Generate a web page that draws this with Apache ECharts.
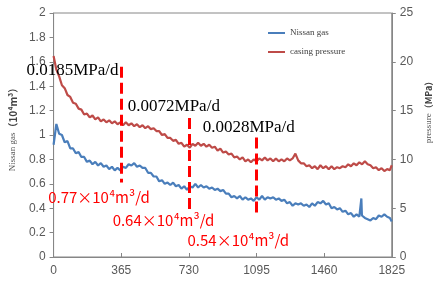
<!DOCTYPE html>
<html>
<head>
    <meta charset="utf-8">
    <script src="https://cdn.jsdelivr.net/npm/echarts@6/dist/echarts.min.js"></script>
</head>
<body style="margin:0">
<div id="main" style="width:441px;height:282px;"></div>
<script type="text/javascript">
    // Nissan gas, 10^4 m3 (day, value)
    var gasDays = [0, 15, 30, 45, 60, 75, 90, 105, 120, 135, 150, 165, 180, 195, 210, 225, 240, 255, 270, 285,
        300, 315, 330, 345, 360, 375, 390, 405, 420, 435, 450, 465, 480, 495, 510, 525, 540, 555, 570, 585,
        600, 615, 630, 645, 660, 675, 690, 705, 720, 735, 750, 765, 780, 795, 810, 825, 840, 855, 870, 885,
        900, 915, 930, 945, 960, 975, 990, 1005, 1020, 1035, 1050, 1065, 1080, 1095, 1110, 1125, 1140, 1155, 1170, 1185,
        1200, 1215, 1230, 1245, 1260, 1275, 1290, 1305, 1320, 1335, 1350, 1365, 1380, 1395, 1410, 1425, 1440, 1455, 1470, 1485,
        1500, 1515, 1530, 1545, 1560, 1575, 1590, 1605, 1620, 1635, 1650, 1658, 1661, 1664, 1680, 1695, 1710, 1725, 1740, 1755,
        1770, 1785, 1800, 1815, 1825];
    var gasValues = [0.92, 1.09, 1.01, 1.00, 0.94, 0.95, 0.89, 0.89, 0.85, 0.86, 0.82, 0.82, 0.78, 0.79, 0.76, 0.78, 0.75, 0.77, 0.74, 0.75,
        0.72, 0.74, 0.71, 0.73, 0.71, 0.74, 0.73, 0.76, 0.75, 0.77, 0.74, 0.75, 0.73, 0.73, 0.69, 0.69, 0.66, 0.66, 0.62, 0.63,
        0.60, 0.61, 0.59, 0.61, 0.58, 0.59, 0.56, 0.58, 0.55, 0.58, 0.57, 0.60, 0.57, 0.59, 0.57, 0.58, 0.56, 0.57, 0.55, 0.56,
        0.54, 0.55, 0.52, 0.52, 0.49, 0.50, 0.48, 0.50, 0.47, 0.49, 0.47, 0.48, 0.46, 0.49, 0.47, 0.50, 0.47, 0.49, 0.48, 0.49,
        0.47, 0.48, 0.46, 0.47, 0.44, 0.45, 0.42, 0.44, 0.43, 0.44, 0.42, 0.43, 0.41, 0.44, 0.42, 0.45, 0.44, 0.46, 0.43, 0.44,
        0.40, 0.41, 0.39, 0.40, 0.37, 0.38, 0.35, 0.36, 0.33, 0.35, 0.33, 0.34, 0.48, 0.34, 0.32, 0.31, 0.30, 0.32, 0.31, 0.34,
        0.33, 0.35, 0.33, 0.32, 0.29];

    // casing pressure, MPa (day, value)
    var pressureDays = [0, 15, 30, 45, 60, 75, 90, 105, 120, 135, 150, 165, 180, 195, 210, 225, 240, 255, 270, 285,
        300, 315, 330, 345, 360, 375, 390, 405, 420, 435, 450, 465, 480, 495, 510, 525, 540, 555, 570, 585,
        600, 615, 630, 645, 660, 675, 690, 705, 720, 735, 750, 765, 780, 795, 810, 825, 840, 855, 870, 885,
        900, 915, 930, 945, 960, 975, 990, 1005, 1020, 1035, 1050, 1065, 1080, 1095, 1110, 1125, 1140, 1155, 1170, 1185,
        1200, 1215, 1230, 1245, 1260, 1275, 1290, 1305, 1320, 1335, 1350, 1365, 1380, 1395, 1410, 1425, 1440, 1455, 1470, 1485,
        1500, 1515, 1530, 1545, 1560, 1575, 1590, 1605, 1620, 1635, 1650, 1665, 1680, 1695, 1710, 1725, 1740, 1755,
        1770, 1785, 1800, 1815, 1825];
    var pressureValues = [20.6, 19.2, 18.5, 17.6, 17.3, 16.6, 16.4, 15.8, 15.7, 15.2, 15.1, 14.6, 14.7, 14.3, 14.5, 14.1, 14.3, 13.9, 14.1, 13.8,
        14.0, 13.7, 13.9, 13.6, 13.8, 13.5, 13.8, 13.5, 13.7, 13.4, 13.6, 13.3, 13.5, 13.2, 13.4, 13.1, 13.2, 12.9, 12.9, 12.5,
        12.6, 12.2, 12.2, 11.9, 12.0, 11.6, 11.7, 11.3, 11.5, 11.2, 11.6, 11.4, 11.7, 11.4, 11.6, 11.3, 11.5, 11.2, 11.3, 10.9,
        11.1, 10.7, 10.8, 10.5, 10.6, 10.2, 10.3, 10.0, 10.2, 9.8, 10.0, 9.7, 10.0, 9.8, 10.1, 9.9, 10.2, 9.9, 10.1, 9.8,
        10.1, 9.8, 10.0, 9.8, 10.1, 9.9, 10.1, 10.6, 9.9, 9.6, 9.6, 9.3, 9.4, 9.1, 9.3, 9.0, 9.4, 9.1, 9.3, 9.0,
        9.3, 9.0, 9.2, 9.1, 9.3, 9.2, 9.5, 9.3, 9.6, 9.4, 9.7, 9.5, 9.8, 9.5, 9.4, 9.1, 9.2, 8.9,
        9.1, 8.8, 9.0, 8.9, 9.4];

    // dashed split lines (in gas units)
    var splitDays = [365, 730, 1095];
    var splitTop = [1.56, 1.14, 0.98];
    var splitBottom = [0.61, 0.36, 0.33];

    // pressure drop rate notes
    var dropTexts = ['0.0185MPa/d', '0.0072MPa/d', '0.0028MPa/d'];
    var dropDays = [102, 649, 1053];
    var dropGas = [1.53, 1.23, 1.06];

    // gas rate notes
    var rateTexts = ['0.77×10⁴m³/d', '0.64×10⁴m³/d', '0.54×10⁴m³/d'];
    var rateDays = [245, 593, 997];
    var rateGas = [0.49, 0.30, 0.14];

    function pairs(xs, ys) {
        return xs.map(function (x, i) { return [x, ys[i]]; });
    }

    var splitLines = splitDays.map(function (d, i) {
        return [{coord: [d, splitTop[i]]}, {coord: [d, splitBottom[i]]}];
    });

    var notes = [];
    dropTexts.forEach(function (t, i) {
        notes.push({coord: [dropDays[i], dropGas[i]], label: {formatter: t, color: '#000',
            fontFamily: 'Liberation Serif', fontSize: 17}});
    });
    rateTexts.forEach(function (t, i) {
        notes.push({coord: [rateDays[i], rateGas[i]], label: {formatter: t, color: '#ff0000',
            fontFamily: 'Noto Sans CJK SC', fontSize: 15}});
    });

    var myChart = echarts.init(document.getElementById('main'));
    var axisLabelStyle = {color: '#595959', fontFamily: 'Liberation Sans', fontSize: 12};

    var option = {
        animation: false,
        grid: {left: 49, right: 35, top: 13, bottom: 25, show: true, borderColor: '#868686', borderWidth: 1},
        legend: {
            orient: 'vertical', left: 268, top: 28, padding: 0, icon: 'rect', itemWidth: 17, itemHeight: 2, itemGap: 9,
            textStyle: {fontFamily: 'Liberation Serif', fontSize: 9, lineHeight: 10, color: '#404040'},
            data: ['Nissan gas', 'casing pressure']
        },
        xAxis: {
            type: 'value', min: 0, max: 1825, interval: 365,
            axisLine: {lineStyle: {color: '#868686'}},
            axisTick: {inside: true, length: 4, lineStyle: {color: '#868686'}},
            axisLabel: Object.assign({formatter: function (v) { return String(v); }}, axisLabelStyle),
            splitLine: {show: false}
        },
        yAxis: [
            {
                type: 'value', min: 0, max: 2, interval: 0.2,
                name: '{a|Nissan gas}{b|（10⁴m³）}',
                nameLocation: 'middle', nameRotate: 90, nameGap: 34,
                nameTextStyle: {
                    padding: [0, 0, 0, 16],
                    rich: {
                        a: {fontFamily: 'Liberation Serif', fontSize: 9, color: '#595959'},
                        b: {fontFamily: 'Noto Sans CJK SC', fontSize: 10, fontWeight: 'bold', color: '#404040'}
                    }
                },
                axisLine: {show: true, lineStyle: {color: '#868686'}},
                axisTick: {show: true, length: 4, lineStyle: {color: '#868686'}},
                axisLabel: axisLabelStyle,
                splitLine: {show: false}
            },
            {
                type: 'value', min: 0, max: 25, interval: 5,
                name: '{a|pressure}{b|（MPa）}',
                nameLocation: 'middle', nameRotate: 90, nameGap: 30,
                nameTextStyle: {
                    padding: [0, 0, 0, 50],
                    rich: {
                        a: {fontFamily: 'Liberation Serif', fontSize: 9, color: '#595959'},
                        b: {fontFamily: 'Noto Sans CJK SC', fontSize: 9, fontWeight: 'bold', color: '#404040'}
                    }
                },
                axisLine: {show: true, lineStyle: {color: '#868686'}},
                axisTick: {show: true, length: 4, lineStyle: {color: '#868686'}},
                axisLabel: axisLabelStyle,
                splitLine: {show: false}
            }
        ],
        series: [
            {
                name: 'casing pressure', type: 'line', yAxisIndex: 1, symbol: 'none',
                color: '#be4b48', lineStyle: {width: 2.2},
                data: pairs(pressureDays, pressureValues)
            },
            {
                name: 'Nissan gas', type: 'line', yAxisIndex: 0, symbol: 'none', clip: false,
                color: '#4a7ebb', lineStyle: {width: 2.2},
                data: pairs(gasDays, gasValues),
                markLine: {
                    silent: true, symbol: 'none', label: {show: false},
                    lineStyle: {color: '#ff0000', type: [11, 5], width: 3},
                    data: splitLines
                },
                markPoint: {
                    silent: true, symbol: 'circle', symbolSize: 0,
                    label: {show: true, position: 'inside'},
                    data: notes
                }
            }
        ]
    };

    myChart.setOption(option);
</script>
</body>
</html>
